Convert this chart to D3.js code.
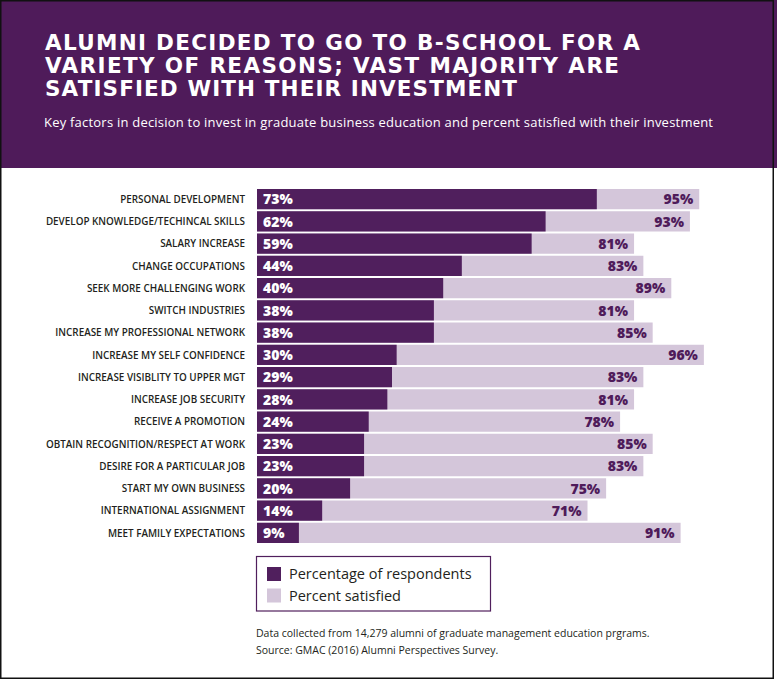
<!DOCTYPE html>
<html>
<head>
<meta charset="utf-8">
<script src="https://cdn.jsdelivr.net/npm/d3@7"></script>
<style>
  body { margin: 0; background: #fff; }
  svg { display: block; }
</style>
</head>
<body>
<div id="chart"></div>
<script>
const reasons = [
  "PERSONAL DEVELOPMENT",
  "DEVELOP KNOWLEDGE/TECHINCAL SKILLS",
  "SALARY INCREASE",
  "CHANGE OCCUPATIONS",
  "SEEK MORE CHALLENGING WORK",
  "SWITCH INDUSTRIES",
  "INCREASE MY PROFESSIONAL NETWORK",
  "INCREASE MY SELF CONFIDENCE",
  "INCREASE VISIBLITY TO UPPER MGT",
  "INCREASE JOB SECURITY",
  "RECEIVE A PROMOTION",
  "OBTAIN RECOGNITION/RESPECT AT WORK",
  "DESIRE FOR A PARTICULAR JOB",
  "START MY OWN BUSINESS",
  "INTERNATIONAL ASSIGNMENT",
  "MEET FAMILY EXPECTATIONS"
];
const respondents = [73, 62, 59, 44, 40, 38, 38, 30, 29, 28, 24, 23, 23, 20, 14, 9];
const satisfied = [95, 93, 81, 83, 89, 81, 85, 96, 83, 81, 78, 85, 83, 75, 71, 91];

const titleLines = [
  "ALUMNI DECIDED TO GO TO B-SCHOOL FOR A",
  "VARIETY OF REASONS; VAST MAJORITY ARE",
  "SATISFIED WITH THEIR INVESTMENT"
];
const titleWidths = [595, 574, 472]; // measured span of each line in the reference
const subtitle = "Key factors in decision to invest in graduate business education and percent satisfied with their investment";
const legendLabels = ["Percentage of respondents", "Percent satisfied"];
const footnotes = [
  "Data collected from 14,279 alumni of graduate management education prgrams.",
  "Source: GMAC (2016) Alumni Perspectives Survey."
];

const width = 777, height = 680;
const dark = "#501f5d", light = "#d4c6da", header = "#4f1b5a";

const rows = reasons.map((r, i) => ({ reason: r, pct: respondents[i], sat: satisfied[i] }));

const svg = d3.select("#chart").append("svg")
  .attr("width", width)
  .attr("height", height)
  .style("font-family", "'Open Sans', sans-serif");

// header band
svg.append("rect").attr("x", 0).attr("y", 0).attr("width", width).attr("height", 168).attr("fill", header);

svg.append("text")
  .attr("fill", "#fff")
  .attr("font-family", "'DejaVu Sans', sans-serif")
  .attr("font-size", 21.5)
  .attr("font-weight", 700)
  .selectAll("tspan")
  .data(titleLines)
  .join("tspan")
  .attr("x", 45)
  .attr("y", (d, i) => 49.5 + i * 23.4)
  .attr("textLength", (d, i) => titleWidths[i])
  .attr("lengthAdjust", "spacing")
  .text(d => d);

svg.append("text")
  .attr("x", 44)
  .attr("y", 127)
  .attr("fill", "#fff")
  .attr("font-size", 13)
  .attr("textLength", 669)
  .attr("lengthAdjust", "spacing")
  .text(subtitle);

const x = d3.scaleLinear().domain([0, 100]).range([257, 722.5]);
const y = d3.scaleBand().domain(reasons).range([188, 188 + 16 * 22.25]).paddingInner(0.09).paddingOuter(0.045);

const row = svg.append("g")
  .selectAll("g")
  .data(rows)
  .join("g")
  .attr("transform", d => `translate(0,${y(d.reason)})`);

row.append("rect")
  .attr("x", x(0))
  .attr("width", d => x(d.sat) - x(0))
  .attr("height", y.bandwidth())
  .attr("fill", light);

row.append("rect")
  .attr("x", x(0))
  .attr("width", d => x(d.pct) - x(0))
  .attr("height", y.bandwidth())
  .attr("fill", dark);

row.append("text")
  .attr("x", 245)
  .attr("y", y.bandwidth() / 2)
  .attr("dy", "0.38em")
  .attr("text-anchor", "end")
  .attr("fill", "#231f20")
  .attr("font-size", 9.9)
  .attr("font-weight", 600)
  .text(d => d.reason);

row.append("text")
  .attr("x", x(0) + 6)
  .attr("y", y.bandwidth() / 2)
  .attr("dy", "0.37em")
  .attr("fill", "#fff")
  .attr("font-size", 14)
  .attr("font-weight", 800)
  .text(d => d.pct + "%");

row.append("text")
  .attr("x", d => x(d.sat) - 6)
  .attr("y", y.bandwidth() / 2)
  .attr("dy", "0.37em")
  .attr("text-anchor", "end")
  .attr("fill", header)
  .attr("font-size", 14)
  .attr("font-weight", 800)
  .text(d => d.sat + "%");

// legend
const legend = svg.append("g");
legend.append("rect")
  .attr("x", 256.5).attr("y", 556.5).attr("width", 234).attr("height", 54.5)
  .attr("fill", "none").attr("stroke", dark).attr("stroke-width", 1.2);
const li = legend.selectAll("g.item")
  .data(legendLabels)
  .join("g")
  .attr("class", "item")
  .attr("transform", (d, i) => `translate(267,${567 + i * 21.5})`);
li.append("rect").attr("width", 14).attr("height", 14).attr("fill", (d, i) => i ? light : dark);
li.append("text")
  .attr("x", 22).attr("y", 7).attr("dy", "0.36em")
  .attr("font-size", 14.5).attr("fill", "#231f20")
  .text(d => d);

svg.append("g")
  .selectAll("text")
  .data(footnotes)
  .join("text")
  .attr("x", 256)
  .attr("y", (d, i) => 637 + i * 17)
  .attr("font-size", 10.5)
  .attr("fill", "#231f20")
  .text(d => d);

// outer frame
svg.append("rect")
  .attr("x", 0.75).attr("y", 0.75).attr("width", 772.5).attr("height", 677.5)
  .attr("fill", "none").attr("stroke", "#111").attr("stroke-width", 1.5);
</script>
</body>
</html>
